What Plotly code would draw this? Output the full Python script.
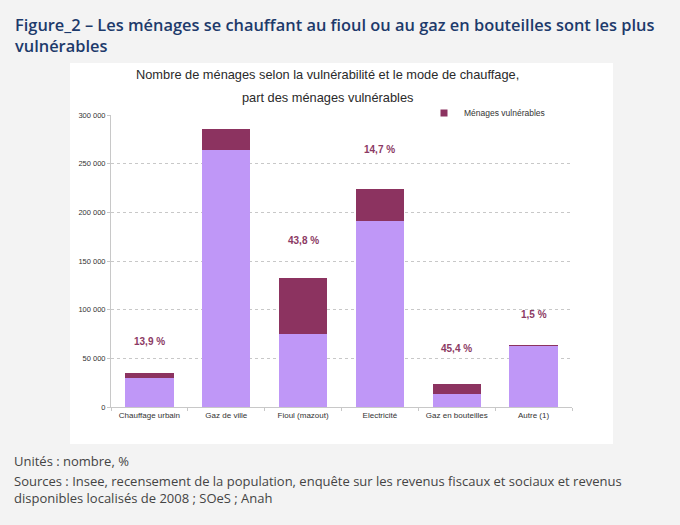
import plotly.graph_objects as go

categories = ["Chauffage urbain", "Gaz de ville", "Fioul (mazout)", "Electricité", "Gaz en bouteilles", "Autre (1)"]
non_vulnerables = [30100, 264500, 74500, 191000, 12900, 62700]
vulnerables = [4900, 21100, 58000, 33000, 10700, 1000]
part_labels = ["13,9 %", "7,4 %", "43,8 %", "14,7 %", "45,4 %", "1,5 %"]
label_y = [67000, 302000, 171000, 265000, 60000, 95500]
y_ticks = [0, 50000, 100000, 150000, 200000, 250000, 300000]
y_tick_text = ["0", "50 000", "100 000", "150 000", "200 000", "250 000", "300 000"]

VULN = "#8c3360"
W, H = 680, 525
L, R, T, B = 111, 108, 115, 118
PW, PH = W - L - R, H - T - B

def px(x): return (x - L) / PW
def py(y): return (H - B - y) / PH

fig = go.Figure()
fig.add_bar(x=categories, y=non_vulnerables, name="Ménages non vulnérables",
            marker=dict(color="#bf97f7", line=dict(width=0)), showlegend=False)
fig.add_bar(x=categories, y=vulnerables, name="Ménages vulnérables",
            marker=dict(color=VULN, line=dict(width=0)), showlegend=False,
            legendgroup="v")
# legend entry with a small square symbol
fig.add_scatter(x=[categories[0]], y=[None], mode="markers", name="Ménages vulnérables",
                marker=dict(symbol="square", size=7, color=VULN), legendgroup="v",
                showlegend=True, hoverinfo="skip")

for c, t, yy in zip(categories, part_labels, label_y):
    fig.add_annotation(x=c, y=yy, text="<b>" + t + "</b>", showarrow=False,
                       font=dict(family="Liberation Sans, Arial", size=10, color="#8c3a64"))

shapes = [dict(type="rect", xref="paper", yref="paper", x0=px(70), x1=px(613),
               y0=py(444), y1=py(63), fillcolor="white", line=dict(width=0), layer="below")]

TITLE_FONT = dict(family="Open Sans", size=16.4, color="#1d3a6b", weight=600)
annotations_text = [
    dict(x=px(13), y=py(35), text="Figure_2 – Les ménages se chauffant au fioul ou au gaz en bouteilles sont les plus<br>vulnérables",
         font=TITLE_FONT, xanchor="left", yanchor="middle", align="left"),
    dict(x=px(327), y=py(74), text="Nombre de ménages selon la vulnérabilité et le mode de chauffage,",
         font=dict(family="Liberation Sans, Arial", size=12.8, color="#2a2a2a"), xanchor="center", yanchor="middle"),
    dict(x=px(327), y=py(97), text="part des ménages vulnérables",
         font=dict(family="Liberation Sans, Arial", size=12.8, color="#2a2a2a"), xanchor="center", yanchor="middle"),
    dict(x=px(12), y=py(461), text="Unités : nombre, %",
         font=dict(family="Open Sans", size=13, color="#444"), xanchor="left", yanchor="middle"),
    dict(x=px(12), y=py(489), text="Sources : Insee, recensement de la population, enquête sur les revenus fiscaux et sociaux et revenus<br>disponibles localisés de 2008 ; SOeS ; Anah",
         font=dict(family="Open Sans", size=13, color="#444"), xanchor="left", yanchor="middle", align="left"),
]
for a in annotations_text:
    fig.add_annotation(xref="paper", yref="paper", showarrow=False, **a)

fig.update_layout(
    width=W, height=H, barmode="stack", bargap=0.37,
    paper_bgcolor="#f3f3f3", plot_bgcolor="white",
    margin=dict(l=L, r=R, t=T, b=B, autoexpand=False),
    shapes=shapes,
    legend=dict(x=px(424), y=py(113), xanchor="left", yanchor="middle",
                orientation="h", bgcolor="white", borderwidth=0,
                font=dict(family="Liberation Sans, Arial", size=8.5, color="#333"),
                itemwidth=30, tracegroupgap=0),
    font=dict(family="Liberation Sans, Arial"),
)
fig.update_yaxes(range=[0, 300000], tickvals=y_ticks, ticktext=y_tick_text,
                 showgrid=True, gridcolor="#c8c8c8", griddash="dot", gridwidth=1,
                 showline=True, linecolor="#c8c8c8", linewidth=1, zeroline=False,
                 ticks="outside", ticklen=3, tickcolor="#c8c8c8",
                 tickfont=dict(size=7.5, color="#333"))
fig.update_xaxes(showline=True, linecolor="#c8c8c8", linewidth=1, showgrid=False,
                 ticks="outside", ticklen=3, tickcolor="#c8c8c8", tickson="boundaries",
                 tickfont=dict(size=8, color="#333"))

fig.write_html("out.html", config={"displayModeBar": False},
               post_script="document.body.style.margin='0';document.body.style.background='#f3f3f3';")
